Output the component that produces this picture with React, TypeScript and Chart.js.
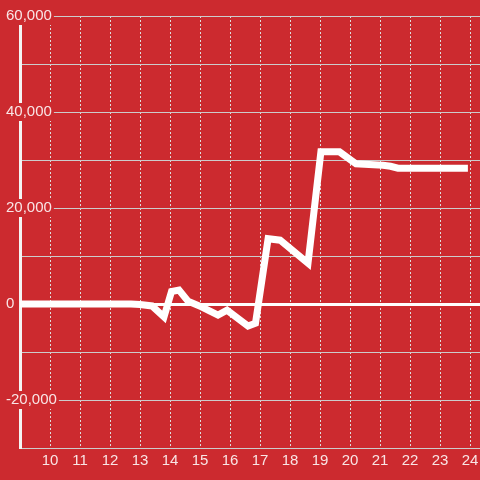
import React, { useEffect, useRef } from 'react';
import { Chart, registerables } from 'chart.js';

Chart.register(...registerables);

// hour of day (x) and value (y)
const hours = [9, 12.7, 13.0, 13.4, 13.8, 14.05, 14.3, 14.6, 15.05, 15.6, 15.9, 16.6, 16.85, 17.27, 17.67, 18.6, 19.03, 19.65, 20.2, 21.1, 21.35, 21.6, 23.93];
const values = [0, 0, -100, -400, -2700, 2600, 2900, 600, -600, -2300, -1300, -4600, -4000, 13600, 13300, 8500, 31700, 31700, 29200, 28900, 28700, 28300, 28300];

const xTickHours = [10, 11, 12, 13, 14, 15, 16, 17, 18, 19, 20, 21, 22, 23, 24];
const yLabeledTicks = [60000, 40000, 20000, 0, -20000];

const BG = '#cc2a2f';
const TEXT = 'rgba(255,255,255,0.88)';
const FONT = "'Liberation Sans', Arial, sans-serif";

export default function App() {
  const ref = useRef<HTMLCanvasElement>(null);

  useEffect(() => {
    const chart = new Chart(ref.current!, {
      type: 'line',
      data: {
        datasets: [
          {
            data: hours.map((h, i) => ({ x: h, y: values[i] })),
            borderColor: '#ffffff',
            borderWidth: 7,
            pointRadius: 0,
            tension: 0,
            fill: false,
          },
        ],
      },
      options: {
        animation: false,
        responsive: false,
        events: [],
        layout: { padding: { top: 16, left: 0, right: 0, bottom: 0 } },
        plugins: { legend: { display: false }, tooltip: { enabled: false } },
        scales: {
          x: {
            type: 'linear',
            min: 9,
            max: 24 + 1 / 3,
            afterBuildTicks: (s: any) => {
              s.ticks = xTickHours.map((v) => ({ value: v }));
            },
            afterFit: (s: any) => {
              s.height = 32;
              s.paddingLeft = 0;
              s.paddingRight = 0;
            },
            grid: { color: '#dddddd', lineWidth: 1, drawTicks: false },
            border: { display: false, dash: [2, 2] },
            ticks: {
              color: TEXT,
              font: { family: FONT, size: 15 },
              padding: 4,
              maxRotation: 0,
              autoSkip: false,
              callback: (v: any) => String(v),
            },
          },
          y: {
            type: 'linear',
            min: -30000,
            max: 60000,
            afterFit: (s: any) => {
              s.width = 20;
              s.paddingTop = 0;
              s.paddingBottom = 0;
            },
            ticks: {
              stepSize: 10000,
              mirror: true,
              padding: -14,
              color: TEXT,
              font: { family: FONT, size: 15 },
              callback: (v: any) => (yLabeledTicks.includes(v) ? Number(v).toLocaleString('en-US') : ''),
              showLabelBackdrop: (c: any) => yLabeledTicks.includes(c.tick?.value),
              backdropColor: BG,
              backdropPadding: { top: 0, bottom: 0, left: 2, right: 2 },
            } as any,
            grid: {
              color: (c: any) => (c.tick?.value === 0 ? '#ffffff' : '#cccccc'),
              lineWidth: (c: any) => (c.tick?.value === 0 ? 3 : 1),
              drawTicks: false,
            },
            border: { display: true, color: '#f4f4f4', width: 3 },
          },
        },
      } as any,
    });
    return () => chart.destroy();
  }, []);

  return (
    <div style={{ position: 'fixed', left: 0, top: 0, width: 480, height: 480, background: BG }}>
      <canvas ref={ref} width={480} height={480} style={{ display: 'block' }} />
    </div>
  );
}
